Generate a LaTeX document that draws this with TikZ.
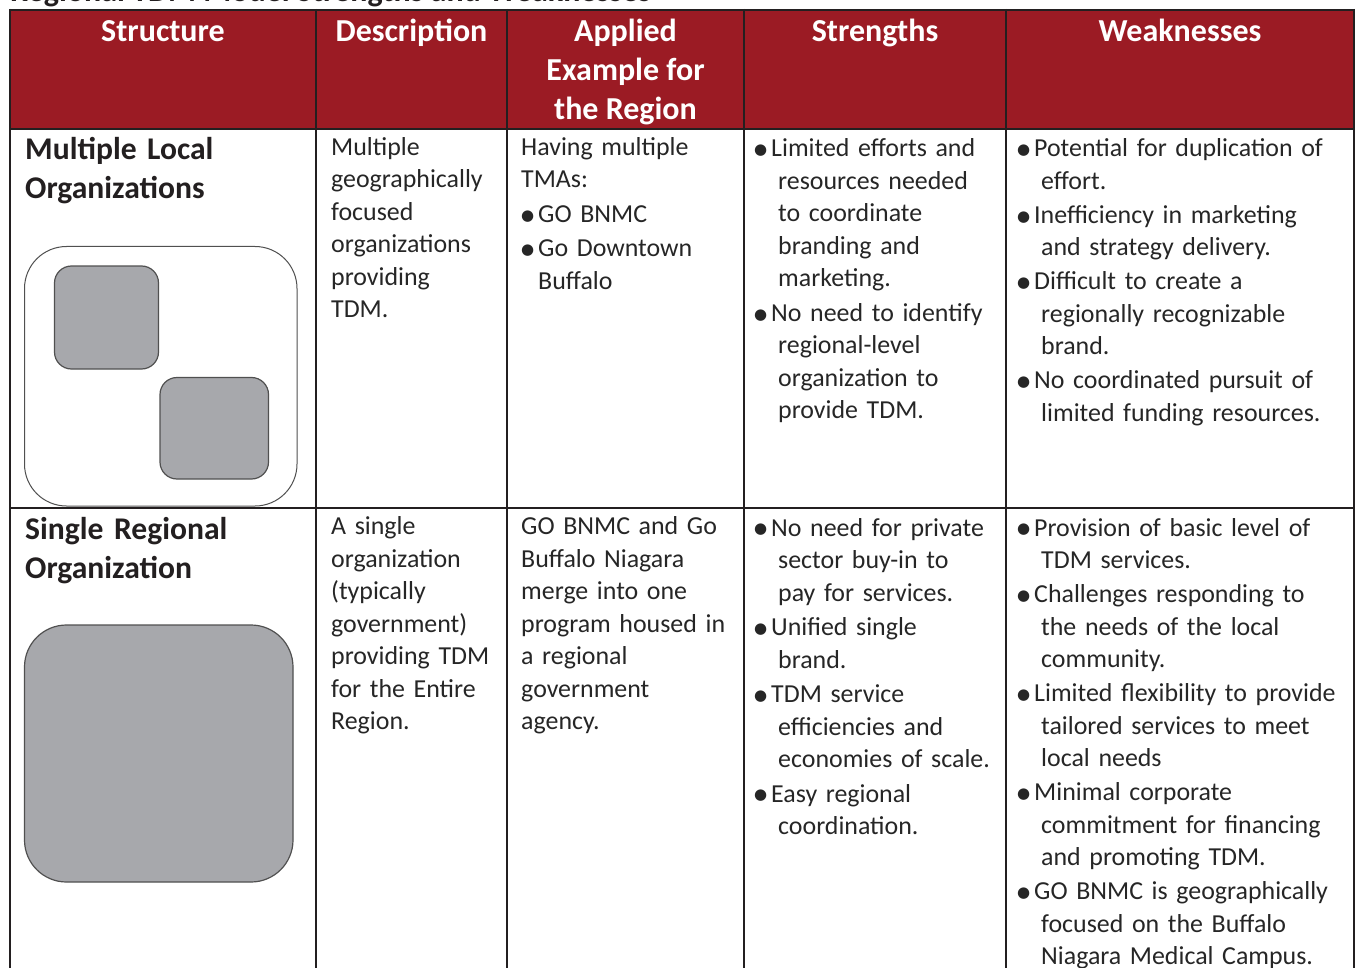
\documentclass[tikz,border=0pt]{standalone}
\usepackage{fontspec}
\setmainfont{Carlito}
\newfontfamily\dejavu{DejaVu Sans}
\definecolor{hdr}{RGB}{155,27,36}
\definecolor{rulec}{RGB}{35,31,32}
\definecolor{txt}{RGB}{38,38,38}
\definecolor{boldtxt}{RGB}{35,31,32}
\definecolor{shapefill}{RGB}{167,168,172}
\definecolor{shapeline}{RGB}{80,80,80}
\newcommand\bulglyph{\raisebox{2.2pt}{\dejavu\fontsize{15}{15}\selectfont ●}}
\newcommand\buls{\makebox[17pt][l]{\bulglyph}}
\newcommand\cs{\hspace*{24pt}}
\newcommand\bulc{\makebox[17pt][l]{\bulglyph}}
\newcommand\cc{\hspace*{17pt}}
\begin{document}
\begin{tikzpicture}[x=1pt,y=-1pt,
  headtxt/.style={text=white,font=\bfseries\fontsize{32}{39}\selectfont,align=center,anchor=base,inner sep=0pt},
  boldcell/.style={text=boldtxt,font=\bfseries\fontsize{31.6}{39}\selectfont,align=left,text width=290pt,anchor=base west,inner sep=0pt},
  cell/.style={text=txt,font=\fontsize{25.9}{32.5}\selectfont,align=left,text width=330pt,anchor=base west,inner sep=0pt},
  titletxt/.style={text=boldtxt,font=\bfseries\fontsize{32}{38}\selectfont,anchor=base west,inner sep=0pt},
  tline/.style={draw=rulec,line width=2pt},
  outerbox/.style={draw=shapeline,line width=1pt,fill=white,rounded corners=42pt},
  innerbox/.style={draw=shapeline,line width=1.2pt,fill=shapefill,rounded corners=17pt},
  bigbox/.style={draw=shapeline,line width=1.2pt,fill=shapefill,rounded corners=42pt}]
\useasboundingbox (0,0) rectangle (1356,968);
\clip (0,0) rectangle (1356,968);
\fill[white] (0,0) rectangle (1356,968);
% title (cut off at top)
\node[titletxt] (title) at (10,1.5) {Regional TDM Model Strengths and Weaknesses};
% header fill
\fill[hdr] (9.7,10) rectangle (1354,129);
% shapes
\draw[outerbox] (24.5,246.5) rectangle (297,506);
\draw[innerbox] (54.5,266) rectangle (158.5,369);
\draw[innerbox] (160,377.5) rectangle (268.5,479);
\draw[bigbox] (24.5,625) rectangle (293,882);
% table rules
\draw[tline] (9.7,10) -- (1354,10);
\draw[tline] (9.7,129) -- (1354,129);
\draw[tline] (9.7,507.5) -- (1354,507.5);
\foreach \xx in {9.7,316,507,744,1006,1354} \draw[tline] (\xx,9) -- (\xx,980);
% header
\node[headtxt] (h1) at (163,42) {Structure};
\node[headtxt] (h2) at (411.5,42) {Description};
\node[headtxt] (h3) at (625.5,120) {Applied\\Example for\\the Region};
\node[headtxt] (h4) at (875,42) {Strengths};
\node[headtxt] (h5) at (1180,42) {Weaknesses};
% row 1
\node[boldcell] (r1c1) at (25,160) {Multiple Local\\Organizations};
\node[cell] (r1c2) at (331,155.5) {Multiple\\geographically\\focused\\organizations\\providing\\TDM.};
\node[cell] (r1c3) at (521,155.5) {Having multiple\\TMAs:\\[2pt]\bulc GO BNMC\\[2pt]\bulc Go Downtown\\\cc Buffalo};
\node[cell] (r1c4) at (754,157) {\buls Limited efforts and\\\cs resources needed\\\cs to coordinate\\\cs branding and\\\cs marketing.\\[2pt]\buls No need to identify\\\cs regional-level\\\cs organization to\\\cs provide TDM.};
\node[cell] (r1c5) at (1017,157) {\buls Potential for duplication of\\\cs effort.\\[1.5pt]\buls Inefficiency in marketing\\\cs and strategy delivery.\\[1.5pt]\buls Difficult to create a\\\cs regionally recognizable\\\cs brand.\\[1.5pt]\buls No coordinated pursuit of\\\cs limited funding resources.};
% row 2
\node[boldcell] (r2c1) at (25,539) {Single Regional\\Organization};
\node[cell] (r2c2) at (331,534.5) {A single\\organization\\(typically\\government)\\providing TDM\\for the Entire\\Region.};
\node[cell] (r2c3) at (521,534.5) {GO BNMC and Go\\Buffalo Niagara\\merge into one\\program housed in\\a regional\\government\\agency.};
\node[cell] (r2c4) at (754,536) {\buls No need for private\\\cs sector buy-in to\\\cs pay for services.\\[2pt]\buls Unified single\\\cs brand.\\[2pt]\buls TDM service\\\cs efficiencies and\\\cs economies of scale.\\[2pt]\buls Easy regional\\\cs coordination.};
\node[cell] (r2c5) at (1017,536) {\buls Provision of basic level of\\\cs TDM services.\\[1.5pt]\buls Challenges responding to\\\cs the needs of the local\\\cs community.\\[1.5pt]\buls Limited flexibility to provide\\\cs tailored services to meet\\\cs local needs\\[1.5pt]\buls Minimal corporate\\\cs commitment for financing\\\cs and promoting TDM.\\[1.5pt]\buls GO BNMC is geographically\\\cs focused on the Buffalo\\\cs Niagara Medical Campus.};
\end{tikzpicture}
\end{document}
